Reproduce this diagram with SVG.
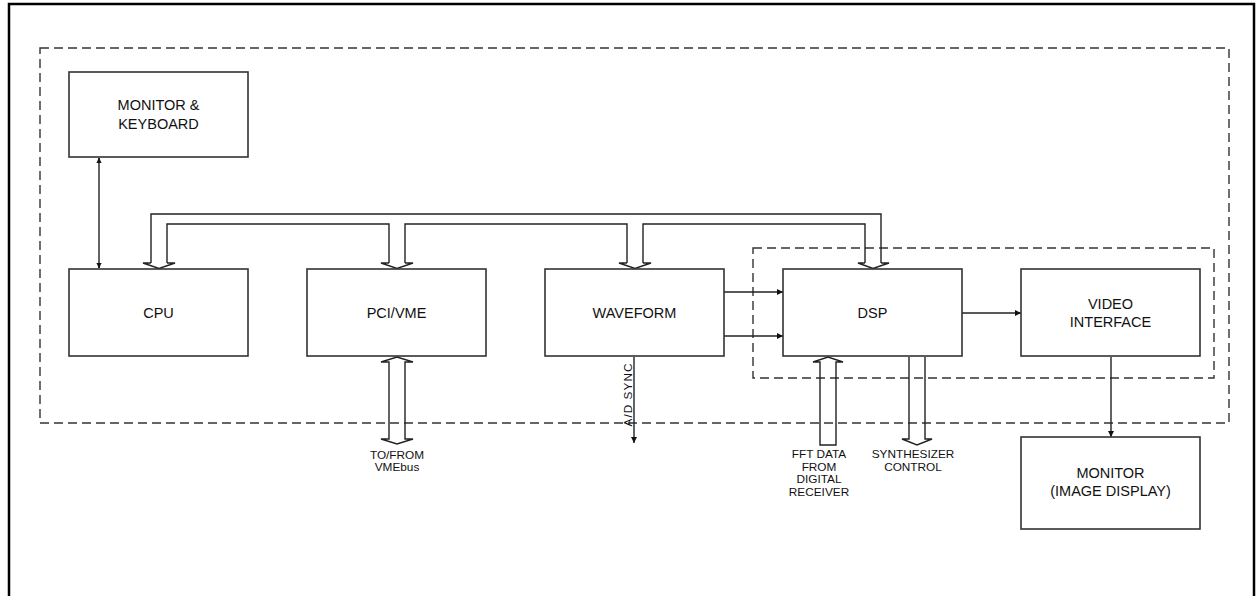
<svg xmlns="http://www.w3.org/2000/svg" width="1257" height="596" viewBox="0 0 1257 596">
<defs>
<style>
.box{fill:#fff;stroke:#333;stroke-width:1.6}
.lbl{font-family:"Liberation Sans",Arial,sans-serif;font-size:14.5px;fill:#111;text-anchor:middle}
.sm{font-family:"Liberation Sans",Arial,sans-serif;font-size:11.8px;fill:#111;text-anchor:middle}
.dash{fill:none;stroke:#333;stroke-width:1.4;stroke-dasharray:9 5}
.ln{fill:none;stroke:#222;stroke-width:1.4}
.bus{fill:none;stroke:#222;stroke-width:1.4;stroke-linejoin:miter}
</style>
<marker id="ah" viewBox="0 0 10 10" refX="10" refY="5" markerWidth="8" markerHeight="6" markerUnits="userSpaceOnUse" orient="auto"><path d="M0,0 L10,5 L0,10 z" fill="#111"/></marker>
<marker id="tiny" viewBox="0 0 10 10" refX="10" refY="5" markerWidth="5" markerHeight="9" markerUnits="userSpaceOnUse" orient="auto-start-reverse"><path d="M0,0 L0,10 M0,1 L10,5 L0,9 z" fill="#111" stroke="#111" stroke-width="1.5"/></marker>
</defs>
<rect x="0" y="0" width="1257" height="596" fill="#fff"/>
<path d="M9,600 V4 H1254 V600" fill="none" stroke="#000" stroke-width="2.5"/>
<rect class="dash" x="40" y="48" width="1189" height="375"/>
<rect class="dash" x="753" y="248" width="461" height="130"/>

<g id="connectors">
<path class="ln" d="M99,158 V268" marker-start="url(#tiny)" marker-end="url(#tiny)"/>
<path class="bus" d="M151,263 V214 H881 V263"/>
<path class="bus" d="M167,263 V224 H389 V263"/>
<path class="bus" d="M405,263 V224 H627 V263"/>
<path class="bus" d="M643,263 V224 H865 V263"/>
<path class="bus" d="M151,263 H143 L159,268.5 L175,263 H167"/>
<path class="bus" d="M389,263 H381 L397,268.5 L413,263 H405"/>
<path class="bus" d="M627,263 H619 L635,268.5 L651,263 H643"/>
<path class="bus" d="M865,263 H858 L873,268.5 L889,263 H881"/>
<path class="bus" d="M389,362 H381 L397,357 L413,362 H405 V439 H413 L397,444 L381,439 H389 Z"/>
<path class="bus" d="M820,445 V362 H813 L828,357 L843,362 H836 V445 Z"/>
<path class="bus" d="M909,357 V439 H902 L917,445 L932,439 H925 V357"/>
<path class="ln" d="M634,357 V443" marker-end="url(#ah)"/>
<path class="ln" d="M724,292 H783" marker-end="url(#ah)"/>
<path class="ln" d="M724,336 H783" marker-end="url(#ah)"/>
<path class="ln" d="M962,313 H1021" marker-end="url(#ah)"/>
<path class="ln" d="M1111,357 V437" marker-end="url(#ah)"/>
</g>

<g id="monitor-keyboard"><rect class="box" x="69" y="72" width="179" height="85"/><text class="lbl" x="158.5" y="110">MONITOR &amp;</text><text class="lbl" x="158.5" y="129">KEYBOARD</text></g>
<g id="cpu"><rect class="box" x="69" y="269" width="179" height="87"/><text class="lbl" x="158.5" y="318">CPU</text></g>
<g id="pcivme"><rect class="box" x="307" y="269" width="179" height="87"/><text class="lbl" x="396.5" y="318">PCI/VME</text></g>
<g id="waveform"><rect class="box" x="545" y="269" width="179" height="87"/><text class="lbl" x="634.5" y="318">WAVEFORM</text></g>
<g id="dsp"><rect class="box" x="783" y="269" width="179" height="87"/><text class="lbl" x="872.5" y="318">DSP</text></g>
<g id="video-interface"><rect class="box" x="1021" y="269" width="179" height="87"/><text class="lbl" x="1110.5" y="309">VIDEO</text><text class="lbl" x="1110.5" y="327">INTERFACE</text></g>
<g id="monitor-display"><rect class="box" x="1021" y="437" width="179" height="92"/><text class="lbl" x="1110.5" y="478">MONITOR</text><text class="lbl" x="1110.5" y="496">(IMAGE DISPLAY)</text></g>

<g id="labels">
<text class="sm" x="397" y="459">TO/FROM</text>
<text class="sm" x="397" y="471">VMEbus</text>
<text class="sm" transform="translate(632,395) rotate(-90)" textLength="63">A/D SYNC</text>
<text class="sm" x="819" y="458">FFT DATA</text>
<text class="sm" x="819" y="470.5">FROM</text>
<text class="sm" x="819" y="483">DIGITAL</text>
<text class="sm" x="819" y="495.5">RECEIVER</text>
<text class="sm" x="913" y="458">SYNTHESIZER</text>
<text class="sm" x="913" y="470.5">CONTROL</text>
</g>
</svg>
